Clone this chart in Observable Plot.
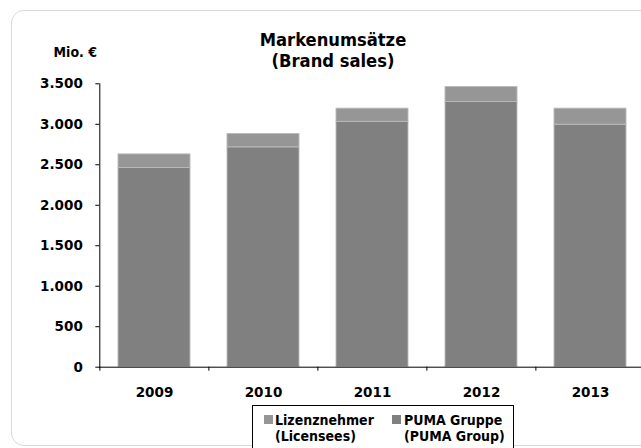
<!DOCTYPE html>
<html>
<head>
<meta charset="utf-8">
<script src="https://cdn.jsdelivr.net/npm/d3@7"></script>
<script src="https://cdn.jsdelivr.net/npm/@observablehq/plot@0.6"></script>
<style>
  html, body { margin: 0; padding: 0; background: #fff; overflow: hidden; }
  #page { position: relative; width: 641px; height: 448px; overflow: hidden; background: #fff; }
  .txt { font-family: "DejaVu Sans Condensed", "DejaVu Sans", sans-serif; font-stretch: condensed; font-weight: bold; color: #000; }
  #chart { position: absolute; left: 0; top: 0; }
  #border { position: absolute; left: 11px; top: 9.5px; width: 720px; height: 434px;
            border: 1.5px solid #d9d9d9; border-radius: 13px; pointer-events: none; }
  .title { position: absolute; left: 233px; width: 200px; text-align: center;
           font-size: 18.2px; line-height: 21.2px; height: 21.2px; white-space: nowrap; }
  #title1 { top: 29.2px; }
  #title2 { top: 50.4px; }
  #unit { position: absolute; left: 40px; width: 57px; top: 44.6px; text-align: right;
          font-size: 14px; line-height: 14px; white-space: nowrap; }
  #legend { position: absolute; left: 251.7px; top: 404.7px; width: 260.6px; height: 60px;
            border: 1px solid #000; background: #fff; }
  .entry { position: absolute; top: 6.75px; font-size: 14px; line-height: 16px; white-space: nowrap; }
  .swatch { position: absolute; width: 9px; height: 9px; top: 9.6px; }
</style>
</head>
<body>
<div id="page">
  <div id="chart"></div>
  <div id="border"></div>
  <div id="title1" class="txt title">Markenumsätze</div>
  <div id="title2" class="txt title">(Brand sales)</div>
  <div id="unit" class="txt">Mio. €</div>
  <div id="legend" class="txt"></div>
</div>
<script>
// Brand sales in million euros, split into PUMA's own sales and licensee sales
const years = ["2009", "2010", "2011", "2012", "2013"];
const pumaGroup = [2460, 2715, 3030, 3275, 2995];
const licensees = [168, 165, 163, 185, 198];
const seriesNames = ["Lizenznehmer", "PUMA Gruppe"];
const seriesSubtitles = ["(Licensees)", "(PUMA Group)"];
const seriesColors = ["#969696", "#808080"];
const yTicks = [0, 500, 1000, 1500, 2000, 2500, 3000, 3500];

// long-format rows for the stacked bars (PUMA Gruppe at the bottom)
const rows = years.flatMap((year, i) => [
  {year, series: seriesNames[1], value: pumaGroup[i]},
  {year, series: seriesNames[0], value: licensees[i]}
]);

// German number format: 3.500
const de = d3.formatLocale({decimal: ",", thousands: ".", grouping: [3], currency: ["", " €"]});
const fmt = de.format(",");

const W = 660, H = 448;
const mLeft = 99.3, mRight = 14.5, mTop = 83.3, mBottom = 81.3;
const step = (W - mLeft - mRight) / years.length;

const chart = Plot.plot({
  width: W,
  height: H,
  marginLeft: mLeft,
  marginRight: mRight,
  marginTop: mTop,
  marginBottom: mBottom,
  style: {
    fontFamily: "'DejaVu Sans', sans-serif",
    fontSize: "13.5px",
    fontWeight: "bold",
    color: "#000",
    background: "transparent",
    maxWidth: "none",
    overflow: "visible"
  },
  x: {type: "band", domain: years, paddingInner: 0.34, paddingOuter: 0.17, label: null},
  y: {domain: [0, 3500], label: null},
  color: {domain: seriesNames, range: seriesColors},
  marks: [
    Plot.barY(rows, {
      x: "year", y: "value", fill: "series",
      order: [seriesNames[1], seriesNames[0]],
      stroke: "#bababa", strokeWidth: 0.9
    }),
    Plot.frame({anchor: "left", stroke: "#000", strokeWidth: 1}),
    Plot.ruleY([0], {stroke: "#000", strokeWidth: 1}),
    Plot.axisY({ticks: yTicks, tickSize: 4, tickPadding: 13, tickFormat: fmt, label: null, stroke: "#000"}),
    Plot.axisX({tickSize: 0, tickPadding: 20, label: null}),
    // category separators below the baseline
    Plot.axisX({tickSize: 4, text: null, label: null, dx: -step / 2, stroke: "#000"})
  ]
});
document.getElementById("chart").appendChild(chart);

// legend entries
const legend = document.getElementById("legend");
const entryLeft = [22.3, 151.3];
const swatchLeft = [11.3, 139];
seriesNames.forEach((name, i) => {
  const sw = document.createElement("div");
  sw.className = "swatch";
  sw.style.left = swatchLeft[i] + "px";
  sw.style.background = seriesColors[i];
  legend.appendChild(sw);
  const e = document.createElement("div");
  e.className = "entry";
  e.style.left = entryLeft[i] + "px";
  e.innerHTML = name + "<br>" + seriesSubtitles[i];
  legend.appendChild(e);
});
</script>
</body>
</html>
